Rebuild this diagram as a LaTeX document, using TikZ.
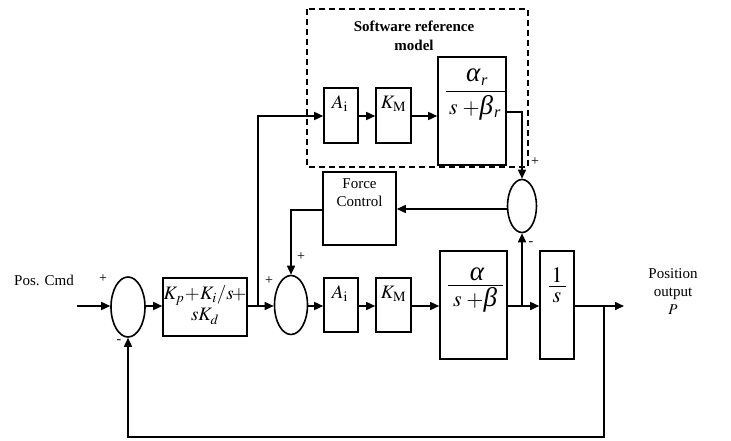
\documentclass[tikz,border=0pt]{standalone}
\usepackage{amsmath}
\usepackage{mathptmx}
\usepackage{fontspec}
\setmainfont{Liberation Serif}
\usetikzlibrary{shapes.geometric,arrows.meta}
\newcommand{\grk}[1]{{\fontsize{27}{30}\selectfont\itshape #1}}
\newcommand{\gsub}[2]{{\fontsize{27}{30}\selectfont\itshape #1\kern1pt{\fontsize{22}{26}\selectfont\textsubscript{#2}}}}
\begin{document}
\begin{tikzpicture}[x=1pt,y=-1pt,
  blk/.style={draw,line width=1.6pt,rectangle,inner sep=0pt},
  sumn/.style={draw,line width=1.6pt,ellipse,inner sep=0pt},
  sig/.style={line width=1.6pt,-{Triangle[length=9pt,width=8pt]}},
  bar/.style={line width=1pt},
  sgn/.style={font=\fontsize{14}{14}\selectfont,inner sep=0pt},
  lbl/.style={font=\fontsize{15}{18}\selectfont,align=center,inner sep=0pt},
  mth/.style={font=\fontsize{19}{22}\selectfont,inner sep=0pt},
  frc/.style={font=\fontsize{22}{26}\selectfont,inner sep=0pt}]
\useasboundingbox (0,0) rectangle (731,441);
% dashed reference box
\draw[line width=1.4pt,dash pattern=on 6pt off 4pt] (307,9) rectangle (528,167);
\node[lbl,font=\fontsize{15}{19}\selectfont\bfseries] (swt) at (414,36) {Software reference\\model};
% nodes
\node[sumn,minimum width=34pt,minimum height=60pt] (s1) at (128,307) {};
\node[blk,minimum width=84pt,minimum height=58pt] (pid) at (205,307) {};
\node[font=\fontsize{19}{22}\selectfont,align=center,inner sep=0pt] (pidt) at (205,305) {$K_p\!+\!K_i/s\!+$\\[-1pt]$sK_d$};
\node[sumn,minimum width=33pt,minimum height=59pt] (s2) at (291,305) {};
\node[blk,minimum width=34pt,minimum height=54pt] (ai2) at (341,305) {};
\node[mth] (ai2t) at (340,294) {$A_{\mathrm{i}}$};
\node[blk,minimum width=35pt,minimum height=54pt] (km2) at (393.5,305) {};
\node[mth] (km2t) at (393.5,294) {$K_{\mathrm{M}}$};
\node[blk,minimum width=67pt,minimum height=108pt] (g2) at (473.5,305) {};
\node[frc] (g2n) at (477,274) {\grk{α}};
\node[frc] (g2d) at (475,300) {$s\;+$\grk{β}};
\draw[bar] (448,285) -- (503,285);
\node[blk,minimum width=34pt,minimum height=108pt] (ig) at (557,305) {};
\node[frc] (ign) at (557,275) {$1$};
\node[frc] (igd) at (557,298) {$s$};
\draw[bar] (549,286) -- (566,286);
\node[sumn,minimum width=29pt,minimum height=53pt] (s3) at (522,206) {};
\node[blk,minimum width=73pt,minimum height=73pt] (fc) at (359.5,208.5) {};
\node[lbl] (fct) at (359.5,193) {Force\\Control};
\node[blk,minimum width=34pt,minimum height=55pt] (ai1) at (341,115.5) {};
\node[mth] (ai1t) at (340,104) {$A_{\mathrm{i}}$};
\node[blk,minimum width=35pt,minimum height=55pt] (km1) at (393.5,115.5) {};
\node[mth] (km1t) at (393.5,104) {$K_{\mathrm{M}}$};
\node[blk,minimum width=68pt,minimum height=108pt] (g1) at (472,111) {};
\node[frc] (g1n) at (477,77) {\gsub{α}{r}};
\node[frc] (g1d) at (475,108) {$s\;+$\gsub{β}{r}};
\draw[bar] (446,92) -- (505,92);
% text labels
\node[lbl] (pc) at (44,280) {Pos. Cmd};
\node[lbl] (po) at (673,292) {Position\\output\\$P$};
\node[sgn] (p1) at (103,279) {+};
\node[sgn] (m1) at (119,342) {-};
\node[sgn] (p2) at (269,281) {+};
\node[sgn] (p3) at (301,257) {+};
\node[sgn] (p4) at (535,162) {+};
\node[sgn] (m3) at (531,244) {-};
% coordinates
\coordinate (in) at (77,306);
\coordinate (b1) at (258,306);
\coordinate (b3) at (604,306);
\coordinate (out) at (624,306);
\coordinate (bot) at (604,437);
% connectors
\draw[sig] (in) -- (in -| s1.west);
\draw[sig] (s1.east |- in) -- (pid.west |- in);
\draw[sig] (pid.east |- in) -- (s2.west |- in);
\draw[sig] (b1) |- (ai1.west |- 0,116);
\draw[sig] (ai1.east |- 0,116) -- (km1.west |- 0,116);
\draw[sig] (km1.east |- 0,116) -- (g1.west |- 0,116);
\draw[sig] (g1.east |- 0,112) -| (s3.north);
\draw[sig] (s3.west |- 0,209) -- (fc.east |- 0,209);
\draw[sig] (fc.west |- 0,210) -| (s2.north);
\draw[sig] (s2.east |- in) -- (ai2.west |- in);
\draw[sig] (ai2.east |- in) -- (km2.west |- in);
\draw[sig] (km2.east |- in) -- (g2.west |- in);
\draw[sig] (g2.east |- in) -- (ig.west |- in);
\draw[sig] (s3.south |- in) -- (s3.south);
\draw[sig] (ig.east |- in) -- (out);
\draw[sig] (b3) -- (bot) -| (s1.south);
\end{tikzpicture}
\end{document}
